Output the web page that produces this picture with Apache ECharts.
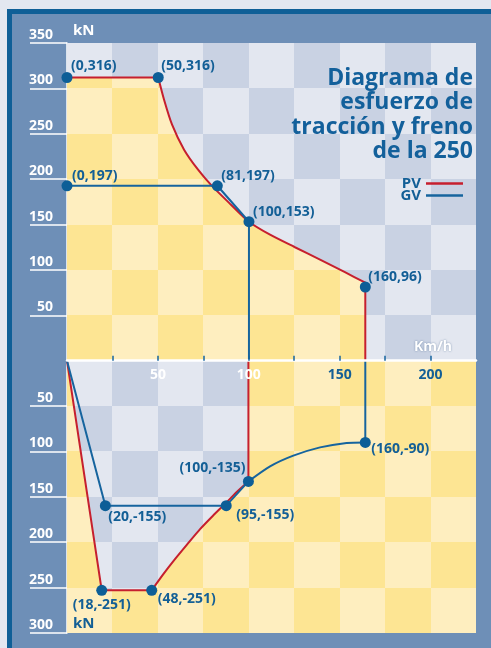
<!DOCTYPE html>
<html>
<head>
<meta charset="utf-8">
<script src="https://cdn.jsdelivr.net/npm/echarts@6/dist/echarts.min.js"></script>
<style>
html, body { margin: 0; padding: 0; background: #e3e7f0; }
#main { width: 491px; height: 648px; }
</style>
</head>
<body>
<div id="main"></div>
<script>
// Diagrama de esfuerzo de tracción y freno

// ejes
var xEdges = [0, 25, 50, 75, 100, 125, 150, 175, 200, 225];
var yEdges = [-300, -250, -200, -150, -100, -50, 0, 50, 100, 150, 200, 250, 300, 350];
var xTicks = [25, 50, 75, 100, 125, 150, 175, 200];
var xLabels = [50, 100, 150, 200];
var yTicks = [350, 300, 250, 200, 150, 100, 50, -50, -100, -150, -200, -250, -300];

// PV traccion
var pvTopFlat = [[0, 312], [50.2, 312]];
var pvTopCurve = [[50.2, 312], [53.4, 287.5], [57.8, 260], [64.4, 232.5], [72.1, 210.4], [79.6, 192.8],
    [90.2, 171.9], [100.1, 153.1], [111.7, 138.8], [125.4, 125], [139.2, 111.3], [152.9, 97.5], [164.1, 85.9]];
var pvTopDrop = [[164.1, 85.9], [164.1, 0]];
// GV traccion
var gvTop = [[0, 192.7], [82.7, 192.7], [100.1, 153.1], [100.1, 0]];
// PV freno
var pvBotLine = [[0, 0], [19.1, -253], [46.6, -253]];
var pvBotCurve = [[46.6, -253], [53, -235.2], [59.4, -218.7], [66, -202.7], [73.2, -185.6], [80.3, -170.8],
    [87.6, -156.4], [93.5, -144.3], [99.8, -133]];
var pvBotRise = [[99.8, -133], [99.8, 0]];
// GV freno
var gvBotLine = [[0, 0], [21.1, -159.7], [87.6, -159.7], [99.8, -133]];
var gvBotCurve = [[99.8, -133], [111.7, -116.4], [124.5, -104.6], [139.2, -95.5], [153.8, -90.6], [164.1, -90]];
var gvBotRise = [[164.1, -90], [164.1, 0]];

// puntos marcados
var pointsX = [0, 50.2, 0, 82.7, 100.1, 164.1, 21.1, 87.6, 99.8, 164.1, 19.1, 46.6];
var pointsY = [312, 312, 192.7, 192.7, 153.1, 81.2, -159.7, -159.7, -133, -90, -253, -253];
var pointTexts = ['(0,316)', '(50,316)', '(0,197)', '(81,197)', '(100,153)', '(160,96)',
    '(20,-155)', '(95,-155)', '(100,-135)', '(160,-90)', '(18,-251)', '(48,-251)'];

var FONT = "'Open Sans', 'Noto Sans', sans-serif";
var RED = '#c61f2e';
var BLUE = '#16649e';
var TXT = '#135f96';
var bluePal = ['#e3e7f0', '#c9d2e3'];
var yellowPal = ['#fde593', '#feeebf'];

var GRID = { left: 67, right: 15, top: 43, bottom: 15 };
var gridH = 648 - GRID.top - GRID.bottom;
var Y_MIN = -300, Y_MAX = 350;

// label placement: [align, dx, dy]
var labelPlace = [
    ['left', 4, -11], ['left', 3, -11], ['left', 5, -10], ['left', 4, -10], ['left', 4, -10], ['left', 3, -10],
    ['left', 3, 11], ['left', 10, 9], ['right', -3, -13], ['left', 6, 7], ['center', 0, 15], ['left', 6, 9]
];

var cells = [];
for (var i = 0; i < xEdges.length - 1; i++) {
    for (var k = 0; k < yEdges.length - 1; k++) {
        cells.push([xEdges[i], xEdges[i + 1], yEdges[k], yEdges[k + 1]]);
    }
}

function cellParity(x0, y0, y1) {
    var c = Math.round(x0 / 25);
    var j = y0 >= 0 ? Math.round(y0 / 50) : Math.round(-y1 / 50);
    return (c + j) % 2;
}

var points = pointsX.map(function (x, i) {
    var p = labelPlace[i];
    return {
        value: [x, pointsY[i]],
        label: { formatter: pointTexts[i], align: p[0], offset: [p[1], p[2]] }
    };
});

function lineSeries(name, data, color, smooth) {
    return {
        name: name,
        type: 'line',
        data: data,
        smooth: smooth ? 0.25 : false,
        showSymbol: false,
        clip: false,
        silent: true,
        z: name == 'GV' ? 4 : 3,
        itemStyle: { color: color },
        lineStyle: { color: color, width: 2 }
    };
}

function areaSeries(data) {
    return {
        type: 'line',
        data: data,
        showSymbol: false,
        silent: true,
        z: 2,
        lineStyle: { width: 0, opacity: 0 },
        areaStyle: { color: 'rgba(0,0,0,0)', opacity: 1 }
    };
}

var option = {
    animation: false,
    backgroundColor: '#e3e7f0',
    title: {
        text: 'Diagrama de\nesfuerzo de\ntracción y freno\nde la 250',
        left: 468,
        top: 61,
        textAlign: 'right',
        textStyle: { fontFamily: FONT, fontSize: 23, fontWeight: 'bold', color: '#13609b', lineHeight: 24.5 }
    },
    legend: {
        orient: 'vertical',
        right: 23,
        top: 171,
        align: 'right',
        icon: 'rect',
        itemWidth: 37,
        itemHeight: 2.5,
        itemGap: -3,
        selectedMode: false,
        textStyle: { fontFamily: FONT, fontSize: 15, fontWeight: 'bold', color: TXT, lineHeight: 14 },
        data: [
            { name: 'PV', itemStyle: { color: RED } },
            { name: 'GV', itemStyle: { color: BLUE } }
        ]
    },
    grid: GRID,
    xAxis: {
        type: 'value',
        min: 0,
        max: 225,
        interval: 25,
        z: 10,
        // eje de velocidad sobre la línea de 0 kN
        offset: -gridH * (0 - Y_MIN) / (Y_MAX - Y_MIN),
        axisLine: { onZero: false, lineStyle: { color: '#ffffff', width: 2.5 } },
        axisTick: { show: true, inside: true, length: 5, customValues: xTicks, lineStyle: { color: BLUE, width: 1.5 } },
        axisLabel: {
            customValues: xLabels,
            margin: 7,
            formatter: function (v) { return v <= 100 ? '{w|' + v + '}' : '{b|' + v + '}'; },
            rich: {
                w: { color: '#ffffff', fontFamily: FONT, fontSize: 14, fontWeight: 'bold' },
                b: { color: TXT, fontFamily: FONT, fontSize: 14, fontWeight: 'bold' }
            }
        },
        splitLine: { show: false }
    },
    yAxis: {
        type: 'value',
        min: Y_MIN,
        max: Y_MAX,
        interval: 50,
        axisLine: { show: true, onZero: false, lineStyle: { color: '#ffffff', width: 1.5 } },
        axisTick: { show: true, length: 37, customValues: yTicks, lineStyle: { color: '#ffffff', width: 1.5 } },
        axisLabel: {
            customValues: yTicks,
            margin: 14,
            verticalAlign: 'bottom',
            lineHeight: 16,
            color: '#ffffff',
            fontFamily: FONT,
            fontSize: 14,
            fontWeight: 'bold',
            formatter: function (v) { return Math.abs(v); }
        },
        splitLine: { show: false }
    },
    graphic: [
        { type: 'rect', z: -10, shape: { x: 7, y: 9, width: 484, height: 639 }, style: { fill: '#0f5f97' } },
        { type: 'rect', z: -9, shape: { x: 12, y: 14, width: 479, height: 634 }, style: { fill: '#6e8fb7' } },
        { type: 'text', z: 20, x: 73, y: 31, style: { text: 'kN', fill: '#ffffff', font: 'bold 15px ' + FONT, verticalAlign: 'middle' } },
        { type: 'text', z: 20, x: 73, y: 624, style: { text: 'kN', fill: TXT, font: 'bold 15px ' + FONT, verticalAlign: 'middle' } },
        { type: 'text', z: 20, x: 433, y: 347, style: { text: 'Km/h', fill: '#ffffff', font: 'bold 14px ' + FONT, align: 'center', verticalAlign: 'middle', textShadowColor: 'rgba(20,60,110,0.5)', textShadowBlur: 2 } }
    ],
    series: [
        {
            type: 'custom',
            silent: true,
            z: 1,
            data: cells,
            encode: { x: [0, 1], y: [2, 3] },
            renderItem: function (params, api) {
                var x0 = api.value(0), x1 = api.value(1), y0 = api.value(2), y1 = api.value(3);
                var tl = api.coord([x0, y1]), br = api.coord([x1, y0]);
                var pal = y0 >= 0 ? bluePal : yellowPal;
                var l = Math.round(tl[0]), t = Math.round(tl[1]);
                return {
                    type: 'rect',
                    shape: { x: l, y: t, width: Math.round(br[0]) - l, height: Math.round(br[1]) - t },
                    style: { fill: pal[cellParity(x0, y0, y1)] }
                };
            }
        },
        areaSeries(pvTopFlat.concat(pvTopCurve, pvTopDrop)),
        areaSeries(pvBotLine.concat(pvBotCurve, pvBotRise)),
        lineSeries('PV', pvTopFlat, RED, false),
        lineSeries('PV', pvTopCurve, RED, true),
        lineSeries('PV', pvTopDrop, RED, false),
        lineSeries('PV', pvBotLine, RED, false),
        lineSeries('PV', pvBotCurve, RED, true),
        lineSeries('PV', pvBotRise, RED, false),
        lineSeries('GV', gvTop, BLUE, false),
        lineSeries('GV', gvBotLine, BLUE, false),
        lineSeries('GV', gvBotCurve, BLUE, true),
        lineSeries('GV', gvBotRise, BLUE, false),
        {
            type: 'scatter',
            data: points,
            symbolSize: 11,
            clip: false,
            silent: true,
            z: 5,
            itemStyle: { color: '#0d5e97', opacity: 1 },
            label: {
                show: true,
                position: 'inside',
                verticalAlign: 'middle',
                color: TXT,
                fontFamily: FONT,
                fontSize: 14,
                fontWeight: 'bold'
            }
        }
    ]
};

var chart = echarts.init(document.getElementById('main'));
chart.setOption(option);

// patrón de cuadros para los rellenos
function makePattern(pal) {
    var cv = document.createElement('canvas');
    cv.width = 491;
    cv.height = 648;
    var ctx = cv.getContext('2d');
    cells.forEach(function (c) {
        var tl = chart.convertToPixel({ gridIndex: 0 }, [c[0], c[3]]);
        var br = chart.convertToPixel({ gridIndex: 0 }, [c[1], c[2]]);
        var l = Math.round(tl[0]), t = Math.round(tl[1]);
        ctx.fillStyle = pal[cellParity(c[0], c[2], c[3])];
        ctx.fillRect(l, t, Math.round(br[0]) - l, Math.round(br[1]) - t);
    });
    return { image: cv, repeat: 'no-repeat' };
}

option.series[1].areaStyle.color = makePattern(yellowPal);
option.series[2].areaStyle.color = makePattern(bluePal);
chart.setOption(option);
</script>
</body>
</html>
